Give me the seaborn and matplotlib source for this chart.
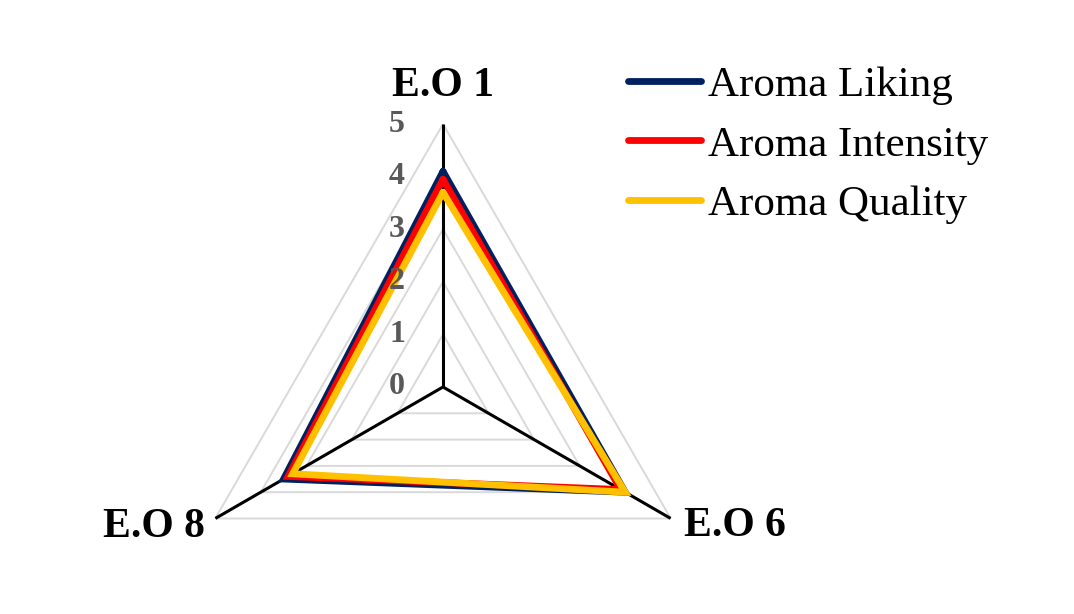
import numpy as np
import pandas as pd
import matplotlib
matplotlib.use("Agg")
import matplotlib.pyplot as plt
from matplotlib.lines import Line2D
import seaborn as sns

# ---- data ----
categories = ["E.O 1", "E.O 6", "E.O 8"]
series_names = ["Aroma Liking", "Aroma Intensity", "Aroma Quality"]
aroma_liking = [4.10, 4.00, 3.50]
aroma_intensity = [3.95, 3.90, 3.40]
aroma_quality = [3.70, 4.00, 3.30]
tick_values = [0, 1, 2, 3, 4, 5]
tick_labels = ["0", "1", "2", "3", "4", "5"]
colors = ["#002060", "#FF0000", "#FFC000"]

sns.set_theme(style="white")
plt.rcParams["font.family"] = ["Liberation Serif", "DejaVu Serif"]

fig = plt.figure(figsize=(10.74, 6.14), dpi=100)
ax = fig.add_axes([180 / 1074, -36 / 614, 526 / 1074, 526 / 614], projection="polar")
ax.set_theta_offset(np.pi / 2)
ax.set_theta_direction(-1)
ax.set_ylim(0, 5)
ax.grid(False)
ax.set_xticks([])
ax.set_yticks([])
ax.spines["polar"].set_visible(False)
ax.patch.set_alpha(0)

n = len(categories)
angles = [2 * np.pi * i / n for i in range(n)]
closed_angles = angles + [angles[0] + 2 * np.pi]

# polygon gridlines
for lv in tick_values[1:]:
    ax.plot(closed_angles, [lv] * (n + 1), color="#D9D9D9", lw=1.4, zorder=1,
            solid_joinstyle="miter")
# spokes
for a in angles:
    ax.plot([a, a], [0, 5], color="black", lw=2.2, zorder=2, solid_capstyle="butt")

# data series via seaborn
rows = []
for name, vals in zip(series_names, [aroma_liking, aroma_intensity, aroma_quality]):
    cv = list(vals) + [vals[0]]
    for i, (a, v) in enumerate(zip(closed_angles, cv)):
        rows.append({"series": name, "angle": a, "value": v, "order": i})
df = pd.DataFrame(rows)
for k, (name, c) in enumerate(zip(series_names, colors)):
    sub = df[df["series"] == name]
    sns.lineplot(data=sub, x="angle", y="value", ax=ax, sort=False, estimator=None,
                 color=c, lw=4.9, zorder=3 + k, solid_joinstyle="miter", legend=False)
ax.set_xlabel("")
ax.set_ylabel("")

# tick labels (drawn above the series lines)
for v, t in zip(tick_values, tick_labels):
    ax.annotate(t, xy=(0, v), xytext=(-38, 0), textcoords="offset pixels",
                ha="right", va="center", fontsize=23, fontweight="bold", color="#595959",
                annotation_clip=False, zorder=10)

# category labels
offsets = [(0, 38, "center"), (13, -8, "left"), (-10, -8, "right")]
for a, lab, (dx, dy, ha) in zip(angles, categories, offsets):
    ax.annotate(lab, xy=(a, 5), xytext=(dx, dy), textcoords="offset pixels",
                ha=ha, va="center", fontsize=30, fontweight="bold", color="black",
                annotation_clip=False, zorder=10)

handles = [Line2D([0], [0], color=c, lw=4.9, solid_capstyle="round") for c in colors]
leg = fig.legend(handles, series_names, loc="upper left",
                 bbox_to_anchor=(628 / 1074, 1 - 66 / 614),
                 frameon=False, fontsize=31, handlelength=1.7, handletextpad=0.15,
                 labelspacing=0.47, borderpad=0, borderaxespad=0)
for t in leg.get_texts():
    t.set_color("black")

fig.savefig("out.png", dpi=100)
